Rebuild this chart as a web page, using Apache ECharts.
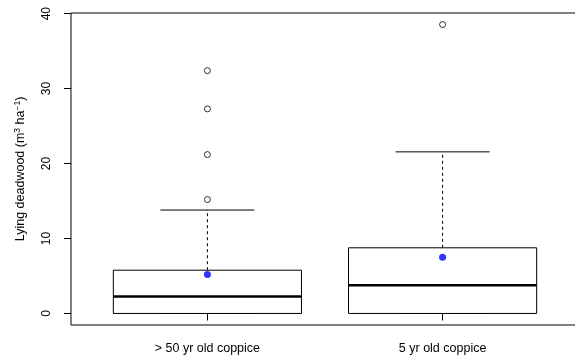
<!DOCTYPE html>
<html>
<head>
<meta charset="utf-8">
<script src="https://cdn.jsdelivr.net/npm/echarts@6/dist/echarts.min.js"></script>
<style>
  html, body { margin: 0; padding: 0; background: #fff; }
  #chart { width: 575px; height: 358px; }
</style>
</head>
<body>
<div id="chart"></div>
<script>
const categories = ["> 50 yr old coppice", "5 yr old coppice"];
const positions = [1, 2];
const lowerWhisker = [0, 0];
const q1 = [0, 0];
const medians = [2.27, 3.77];
const q3 = [5.77, 8.76];
const upperWhisker = [13.8, 21.56];
const means = [5.2, 7.5];
const outliers = [
  [15.2, 21.2, 27.3, 32.4],
  [38.55],
];
const yTicks = [0, 10, 20, 30, 40];

const boxData = positions.map((p, i) => [p, lowerWhisker[i], q1[i], medians[i], q3[i], upperWhisker[i]]);
const outlierData = [];
outliers.forEach((vals, i) => vals.forEach((v) => outlierData.push([positions[i], v])));
const meanData = positions.map((p, i) => [p, means[i]]);

const boxWidth = 0.8;

function renderBox(params, api) {
  const x = api.value(0);
  const w = api.size([boxWidth, 0])[0];
  const left = api.coord([x, 0])[0] - w / 2;
  const cx = left + w / 2;
  const y = (k) => api.coord([x, api.value(k)])[1];
  const yMin = y(1), yQ1 = y(2), yMed = y(3), yQ3 = y(4), yMax = y(5);
  const cap = w / 4;
  const stroke = { stroke: "#000", lineWidth: 1, fill: null };
  return {
    type: "group",
    children: [
      { type: "line", shape: { x1: cx, y1: yQ3, x2: cx, y2: yMax }, style: { ...stroke, lineDash: [3, 3] } },
      { type: "line", shape: { x1: cx, y1: yQ1, x2: cx, y2: yMin }, style: { ...stroke, lineDash: [3, 3] } },
      { type: "line", shape: { x1: cx - cap, y1: yMax, x2: cx + cap, y2: yMax }, style: stroke },
      { type: "line", shape: { x1: cx - cap, y1: yMin, x2: cx + cap, y2: yMin }, style: stroke },
      { type: "rect", shape: { x: left, y: yQ3, width: w, height: yQ1 - yQ3 }, style: { stroke: "#000", lineWidth: 1, fill: "#fff" } },
      { type: "line", shape: { x1: left, y1: yMed, x2: left + w, y2: yMed }, style: { stroke: "#000", lineWidth: 2.6 } },
    ],
  };
}

const chart = echarts.init(document.getElementById("chart"));
chart.setOption({
  animation: false,
  textStyle: { fontFamily: "Liberation Sans", color: "#000" },
  grid: {
    left: 71, top: 13, width: 508, height: 312,
    show: true, borderColor: "#000", borderWidth: 1,
    outerBoundsMode: "none",
  },
  xAxis: {
    type: "value",
    min: 0.42,
    max: 2.58,
    splitLine: { show: false },
    axisLine: { show: false },
    axisTick: { show: true, customValues: positions, length: 7, lineStyle: { color: "#000" } },
    axisLabel: {
      customValues: positions,
      formatter: (v) => categories[positions.indexOf(v)],
      fontSize: 12.5, color: "#000", margin: 17,
    },
  },
  yAxis: {
    type: "value",
    min: -1.54,
    max: 40.09,
    splitLine: { show: false },
    axisLine: { show: false },
    axisTick: { show: true, customValues: yTicks, length: 7, lineStyle: { color: "#000" } },
    axisLabel: { customValues: yTicks, rotate: 90, fontSize: 12, color: "#000", margin: 18 },
    name: "Lying deadwood (m{sup|3} ha{sup|−1})",
    nameLocation: "middle",
    nameGap: 42,
    nameTextStyle: {
      fontSize: 12.5, color: "#000", fontFamily: "Liberation Sans", lineHeight: 16,
      rich: { sup: { fontSize: 8.5, verticalAlign: "top", lineHeight: 16, color: "#000", fontFamily: "Liberation Sans" } },
    },
  },
  series: [
    {
      type: "custom",
      renderItem: renderBox,
      data: boxData,
      encode: { x: 0, y: [1, 2, 3, 4, 5] },
      z: 2,
    },
    {
      type: "scatter",
      data: outlierData,
      symbol: "circle",
      symbolSize: 6,
      itemStyle: { color: "#fff", borderColor: "#000", borderWidth: 1 },
      z: 3,
    },
    {
      type: "scatter",
      data: meanData,
      symbol: "circle",
      symbolSize: 7,
      itemStyle: { color: "#0000ff" },
      z: 4,
    },
  ],
});
</script>
</body>
</html>
